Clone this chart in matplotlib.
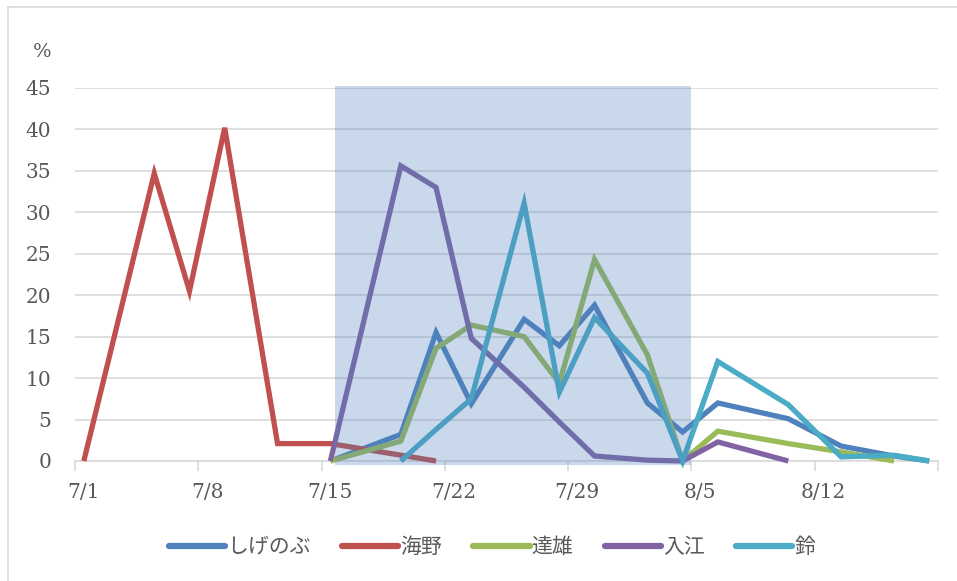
import matplotlib
matplotlib.use("Agg")
import matplotlib.pyplot as plt
from matplotlib.patches import Rectangle
import datetime as dt

# ---- data ----
tick_labels = ['7/1', '7/8', '7/15', '7/22', '7/29', '8/5', '8/12']
y_ticks = [0, 5, 10, 15, 20, 25, 30, 35, 40, 45]

shigenobu_dates = ['7/15', '7/19', '7/21', '7/23', '7/26', '7/28', '7/30', '8/2', '8/4', '8/6', '8/10', '8/13', '8/16', '8/18']
shigenobu_vals = [0, 3.2, 15.5, 6.9, 17.1, 13.9, 18.8, 7.0, 3.5, 7.0, 5.1, 1.8, 0.6, 0]

umino_dates = ['7/1', '7/5', '7/7', '7/9', '7/12', '7/15', '7/21']
umino_vals = [0, 34.7, 20.5, 40.2, 2.1, 2.1, 0]

tatsuo_dates = ['7/15', '7/19', '7/21', '7/23', '7/26', '7/28', '7/30', '8/2', '8/4', '8/6', '8/10', '8/13', '8/16']
tatsuo_vals = [0, 2.4, 13.6, 16.4, 15.0, 9.4, 24.3, 12.8, 0, 3.6, 2.1, 1.1, 0]

irie_dates = ['7/15', '7/19', '7/21', '7/23', '7/26', '7/28', '7/30', '8/2', '8/4', '8/6', '8/10']
irie_vals = [0, 35.6, 33.0, 14.8, 8.9, 4.7, 0.6, 0.1, 0, 2.3, 0]

suzu_dates = ['7/19', '7/21', '7/23', '7/26', '7/28', '7/30', '8/2', '8/4', '8/6', '8/10', '8/13', '8/16', '8/18']
suzu_vals = [0, 3.8, 7.5, 31.1, 8.3, 17.3, 10.6, 0, 12.0, 6.8, 0.5, 0.7, 0]

series_names = ['しげのぶ', '海野', '達雄', '入江', '鈴']
series_colors = ['#4F81BD', '#C0504D', '#9BBB59', '#8064A2', '#4BACC6']
series_dates = [shigenobu_dates, umino_dates, tatsuo_dates, irie_dates, suzu_dates]
series_vals = [shigenobu_vals, umino_vals, tatsuo_vals, irie_vals, suzu_vals]

shade_start, shade_end = '7/15', '8/5'

base = dt.date(2020, 7, 1)


def day_index(s):
    m, d = s.split('/')
    return (dt.date(2020, int(m), int(d)) - base).days


W, H = 957, 581
fig = plt.figure(figsize=(W / 100, H / 100), dpi=100)
fig.patch.set_facecolor('white')

# chart border
fig.add_artist(Rectangle((8 / W, -0.1), 1.2, 1 - 7 / H + 0.1, transform=fig.transFigure,
                         fill=False, edgecolor='#D9D9D9', lw=1.2))

left, right = 75, 938
bottom, top = 461, 88
ax = fig.add_axes([left / W, (H - bottom) / H, (right - left) / W, (bottom - top) / H])
ax.set_xlim(-0.5, 48.5)
ax.set_ylim(0, 45)

for s in ['top', 'right', 'left']:
    ax.spines[s].set_visible(False)
ax.spines['bottom'].set_color('#D9D9D9')
ax.spines['bottom'].set_linewidth(1.2)

ax.set_yticks(y_ticks)
ax.yaxis.grid(True, color='#D9D9D9', lw=1.2)
ax.set_axisbelow(True)
ax.tick_params(axis='y', length=0, pad=17, labelsize=14.5, labelcolor='#595959')
for lab in ax.get_yticklabels():
    lab.set_family('DejaVu Serif')

lab_pos = [day_index(t) for t in tick_labels]
ax.set_xticks([p - 0.5 for p in lab_pos] + [lab_pos[-1] + 6.5])
ax.set_xticklabels([])
ax.set_xticks(lab_pos, minor=True)
ax.set_xticklabels(tick_labels, minor=True, family='DejaVu Serif', fontsize=14.5, color='#595959')
ax.tick_params(axis='x', which='major', length=7, color='#D9D9D9', width=1.2)
ax.tick_params(axis='x', which='minor', length=0, pad=16)

handles = []
for name, col, ds, vs in zip(series_names, series_colors, series_dates, series_vals):
    xs = [day_index(d) for d in ds]
    h, = ax.plot(xs, vs, color=col, lw=3.8, solid_joinstyle='miter', solid_capstyle='butt',
                 label=name, zorder=3, clip_on=False)
    handles.append(h)

x0 = day_index(shade_start) + 0.25
x1 = day_index(shade_end) - 0.5
ax.add_patch(Rectangle((x0, -0.5), x1 - x0, 45.7, facecolor='#4F81BD', alpha=0.3,
                       edgecolor='none', zorder=5, clip_on=False))

fig.text(42 / W, 1 - 52 / H, '%', ha='center', va='center', fontsize=14,
         color='#595959', family='DejaVu Serif')

leg = fig.legend(handles=handles, loc='center', bbox_to_anchor=(492 / W, 1 - 547 / H),
                 ncol=5, frameon=False, handlelength=2.7, handletextpad=0.1,
                 columnspacing=1.5, prop={'family': ['Noto Sans CJK JP', 'DejaVu Sans'], 'size': 15})
for t in leg.get_texts():
    t.set_color('#595959')
for l in leg.get_lines():
    l.set_linewidth(4.5)
    l.set_solid_capstyle('round')

fig.savefig('out.png', dpi=100)
